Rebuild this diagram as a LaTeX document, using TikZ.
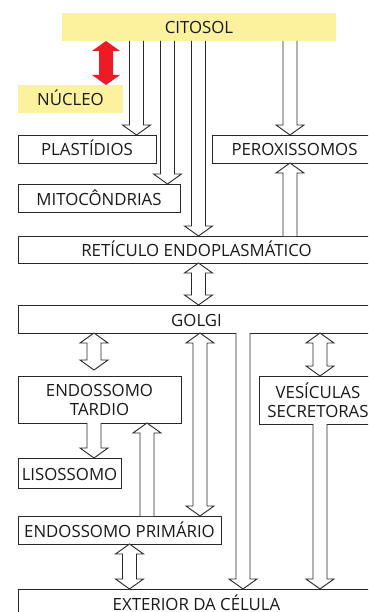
\documentclass[tikz,border=0pt]{standalone}
\usepackage{fontspec}
\setmainfont{Open Sans}
\usepackage{xcolor}
\usepackage{tikz}
\usetikzlibrary{positioning,calc}
\definecolor{citoyellow}{RGB}{252,242,158}
\definecolor{arrowred}{RGB}{237,28,36}
\definecolor{boxline}{RGB}{40,40,40}
\tikzset{
  cellbase/.style={rectangle, draw=boxline, line width=0.9pt, fill=white, align=center, inner sep=0pt, outer sep=0pt, minimum height=28pt, text=black!90, font=\fontsize{16.8}{19}\selectfont},
  cellbox/.style={cellbase, text height=14pt, text depth=0pt},
  cellyellow/.style={cellbox, draw=none, fill=citoyellow},
  blockarr/.style={draw=boxline, line width=0.9pt, fill=white, line join=miter},
  redarr/.style={draw=none, fill=arrowred}
}
% hollow block arrow: tail -> tip
\newcommand{\blockarrow}[3][]{%
  \path (#2) coordinate (t0) (#3) coordinate (t1) ($(t1)!10pt!(t0)$) coordinate (h1);
  \filldraw[blockarr,#1] ([xshift=-7pt]t0) -- ([xshift=-7pt]h1) -- ([xshift=-14pt]h1) -- (t1)
    -- ([xshift=14pt]h1) -- ([xshift=7pt]h1) -- ([xshift=7pt]t0);
}
% hollow block arrow with two heads
\newcommand{\blockdarrow}[3][]{%
  \path (#2) coordinate (t0) (#3) coordinate (t1)
    ($(t0)!10pt!(t1)$) coordinate (h0) ($(t1)!10pt!(t0)$) coordinate (h1);
  \filldraw[blockarr,#1] (t0) -- ([xshift=14pt]h0) -- ([xshift=7pt]h0) -- ([xshift=7pt]h1)
    -- ([xshift=14pt]h1) -- (t1) -- ([xshift=-14pt]h1) -- ([xshift=-7pt]h1)
    -- ([xshift=-7pt]h0) -- ([xshift=-14pt]h0) -- cycle;
}
\begin{document}
\begin{tikzpicture}[x=1pt, y=-1pt]
\useasboundingbox (0,0) rectangle (368,612);
\clip (0,0) rectangle (368,612);
% boxes
\node[cellyellow, minimum width=274pt, anchor=north west] (citosol) at (62,13) {CITOSOL};
\node[cellyellow, minimum width=105pt, below=44pt of citosol.south west, anchor=north west, xshift=-44pt] (nucleo) {NÚCLEO};
\node[cellbox, minimum width=138pt, below=22pt of nucleo.south west, anchor=north west] (plast) {PLASTÍDIOS};
\node[cellbox, minimum width=162pt, below=21pt of plast.south west, anchor=north west] (mito) {MITOCÔNDRIAS};
\node[cellbox, minimum width=165pt, right=56pt of plast] (perox) {PEROXISSOMOS};
\node[cellbox, minimum width=357pt, minimum height=27pt, below=24pt of mito.south west, anchor=north west] (ret) {RETÍCULO ENDOPLASMÁTICO};
\node[cellbox, minimum width=357pt, below=42pt of ret.south west, anchor=north west] (golgi) {GOLGI};
\node[cellbase, minimum width=163pt, minimum height=47pt, below=43pt of golgi.south west, anchor=north west] (tardio) {ENDOSSOMO\\TARDIO};
\node[cellbase, minimum width=118pt, minimum height=48pt, right=78pt of tardio.north east, anchor=north west] (vesic) {VESÍCULAS\\SECRETORAS};
\node[cellbox, minimum width=103pt, minimum height=30pt, below=35pt of tardio.south west, anchor=north west] (lisos) {LISOSSOMO};
\node[cellbox, minimum width=203pt, below=28pt of lisos.south west, anchor=north west] (prim) {ENDOSSOMO PRIMÁRIO};
\node[cellbox, minimum width=357pt, below=45pt of prim.south west, anchor=north west] (ext) {EXTERIOR DA CÉLULA};
% arrow lanes
\coordinate (lR) at (106,0);
\coordinate (lA) at (136.5,0);
\coordinate (lB) at (167.5,0);
\coordinate (lC) at (198.5,0);
\coordinate (lD) at (290,0);
\coordinate (lG) at (94,0);
\coordinate (lH) at (200,0);
\coordinate (lI) at (243,0);
\coordinate (lJ) at (320,0);
\coordinate (lM) at (147,0);
\coordinate (lN) at (129.5,0);
% arrows
\blockdarrow[redarr]{citosol.south -| lR}{nucleo.north -| lR}
\blockarrow{citosol.south -| lA}{plast.north -| lA}
\blockarrow{citosol.south -| lB}{mito.north -| lB}
\blockarrow{citosol.south -| lC}{ret.north -| lC}
\blockarrow{citosol.south -| lD}{perox.north -| lD}
\blockarrow{ret.north -| lD}{perox.south -| lD}
\blockdarrow{ret.south -| lC}{golgi.north -| lC}
\blockdarrow{golgi.south -| lG}{[yshift=6pt]tardio.north -| lG}
\blockdarrow{golgi.south -| lH}{prim.north -| lH}
\blockarrow{golgi.south -| lI}{ext.north -| lI}
\blockdarrow{golgi.south -| lJ}{vesic.north -| lJ}
\blockarrow{vesic.south -| lJ}{ext.north -| lJ}
\blockarrow{tardio.south -| lG}{lisos.north -| lG}
\blockarrow{prim.north -| lM}{tardio.south -| lM}
\blockdarrow{prim.south -| lN}{ext.north -| lN}
\end{tikzpicture}
\end{document}
